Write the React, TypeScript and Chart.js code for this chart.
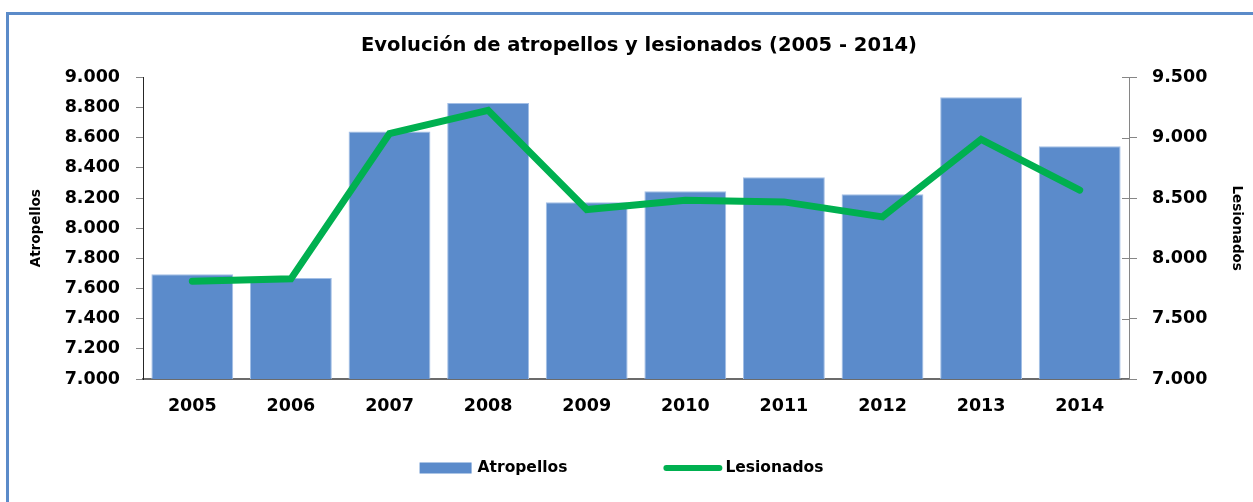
import React, { useEffect, useRef } from 'react';
import { Chart, registerables } from 'chart.js';

Chart.register(...registerables);

if (typeof document !== 'undefined') {
  document.body.style.margin = '0';
  document.body.style.overflow = 'hidden';
}

const years = ['2005', '2006', '2007', '2008', '2009', '2010', '2011', '2012', '2013', '2014'];
const atropellos = [7695, 7669, 8642, 8830, 8172, 8245, 8338, 8225, 8868, 8543];
const lesionados = [7811, 7830, 9034, 9227, 8405, 8482, 8468, 8344, 8987, 8565];

const leftAxis = { min: 7000, max: 9000, step: 200 };
const rightAxis = { min: 7000, max: 9500, step: 500 };

const TITLE = 'Evolución de atropellos y lesionados (2005 - 2014)';
const FONT = '"DejaVu Sans", sans-serif';
const BAR_COLOR = '#5B8BCB';
const LINE_COLOR = '#00B050';

const fmt = (v: number) => Math.round(v).toString().replace(/\B(?=(\d{3})+(?!\d))/g, '.');

const innerTicksPlugin = {
  id: 'innerTicks',
  afterDraw(chart: any) {
    const s = chart.scales.y1;
    if (!s) return;
    const ctx = chart.ctx;
    ctx.save();
    ctx.strokeStyle = '#868686';
    ctx.lineWidth = 1;
    s.ticks.forEach((t: any) => {
      const y = Math.round(s.getPixelForValue(t.value)) + 0.5;
      ctx.beginPath();
      ctx.moveTo(s.left - 7, y);
      ctx.lineTo(s.left, y);
      ctx.stroke();
    });
    ctx.restore();
  },
};

const legendPlugin = {
  id: 'customLegend',
  afterDraw(chart: any) {
    const ctx = chart.ctx;
    const ds = chart.data.datasets;
    ctx.save();
    ctx.font = `bold 15.5px ${FONT}`;
    const t1 = ds[0].label as string;
    const t2 = ds[1].label as string;
    const w1 = ctx.measureText(t1).width;
    const w2 = ctx.measureText(t2).width;
    const box = 52, gap1 = 6, spacing = 96, lineW = 59, gap2 = 3;
    const total = box + gap1 + w1 + spacing + lineW + gap2 + w2;
    let x = chart.width / 2 - 5 - total / 2;
    const y = 468;
    ctx.fillStyle = ds[0].backgroundColor;
    ctx.fillRect(x, y - 5.5, box, 11);
    x += box + gap1;
    ctx.fillStyle = '#000';
    ctx.textBaseline = 'middle';
    ctx.textAlign = 'left';
    ctx.fillText(t1, x, y);
    x += w1 + spacing;
    ctx.strokeStyle = ds[1].borderColor;
    ctx.lineWidth = 6;
    ctx.lineCap = 'round';
    ctx.beginPath();
    ctx.moveTo(x + 3, y);
    ctx.lineTo(x + lineW - 3, y);
    ctx.stroke();
    x += lineW + gap2;
    ctx.fillText(t2, x, y);
    ctx.restore();
  },
};

export default function App() {
  const ref = useRef<HTMLCanvasElement | null>(null);

  useEffect(() => {
    if (!ref.current) return;
    const chart = new Chart(ref.current, {
      type: 'bar',
      data: {
        labels: years,
        datasets: [
          {
            type: 'bar',
            label: 'Atropellos',
            data: atropellos,
            yAxisID: 'y',
            backgroundColor: BAR_COLOR,
            borderColor: '#A3BFE6',
            borderWidth: 1,
            barPercentage: 0.83,
            categoryPercentage: 1,
            order: 1,
          },
          {
            type: 'line',
            label: 'Lesionados',
            data: lesionados,
            yAxisID: 'y1',
            borderColor: LINE_COLOR,
            backgroundColor: LINE_COLOR,
            borderWidth: 7,
            pointRadius: 0,
            pointHoverRadius: 0,
            tension: 0,
            borderCapStyle: 'round',
            borderJoinStyle: 'miter',
            order: 0,
          } as any,
        ],
      },
      options: {
        responsive: false,
        animation: false,
        layout: { padding: { top: 0, bottom: 77, left: 25, right: 0 } },
        plugins: {
          legend: { display: false },
          tooltip: { enabled: false },
          title: {
            display: true,
            text: TITLE,
            color: '#000',
            font: { family: FONT, size: 19.5, weight: 'bold' },
            padding: { top: 34, bottom: 20 },
          },
        },
        scales: {
          x: {
            grid: { display: false },
            border: { display: true, color: '#6B6B6B', width: 2 },
            ticks: {
              color: '#000',
              font: { family: FONT, size: 17.5, weight: 'bold' },
              padding: 8.5,
              maxRotation: 0,
            },
          },
          y: {
            position: 'left',
            min: leftAxis.min,
            max: leftAxis.max,
            afterFit: (s: any) => { s.width = 118; },
            grid: { drawOnChartArea: false, drawTicks: true, tickLength: 7, color: '#868686' },
            border: { display: true, color: '#262626', width: 1 },
            ticks: {
              stepSize: leftAxis.step,
              color: '#000',
              font: { family: FONT, size: 17.5, weight: 'bold' },
              padding: 16,
              callback: (v: any) => fmt(Number(v)),
            },
            title: {
              display: true,
              text: 'Atropellos',
              color: '#000',
              font: { family: FONT, size: 13.5, weight: 'bold' },
              padding: { top: 3, bottom: 0 },
            },
          },
          y1: {
            position: 'right',
            min: rightAxis.min,
            max: rightAxis.max,
            afterFit: (s: any) => { s.width = 124; },
            grid: { drawOnChartArea: false, drawTicks: true, tickLength: 8, color: '#868686' },
            border: { display: true, color: '#868686', width: 1 },
            ticks: {
              stepSize: rightAxis.step,
              color: '#000',
              font: { family: FONT, size: 17.5, weight: 'bold' },
              padding: 15,
              callback: (v: any) => fmt(Number(v)),
            },
            title: {
              display: true,
              text: 'Lesionados',
              color: '#000',
              font: { family: FONT, size: 13.5, weight: 'bold' },
              padding: { top: 8, bottom: 0 },
            },
          },
        },
      },
      plugins: [innerTicksPlugin, legendPlugin],
    });
    return () => chart.destroy();
  }, []);

  return (
    <div style={{ position: 'relative', width: 1253, height: 502, overflow: 'hidden', background: '#fff' }}>
      <div
        style={{
          position: 'absolute',
          left: 6,
          top: 12,
          width: 1320,
          height: 620,
          border: '3px solid #5B8BC9',
          boxSizing: 'border-box',
        }}
      />
      <canvas ref={ref} width={1253} height={502} style={{ position: 'absolute', left: 0, top: 0 }} />
    </div>
  );
}
